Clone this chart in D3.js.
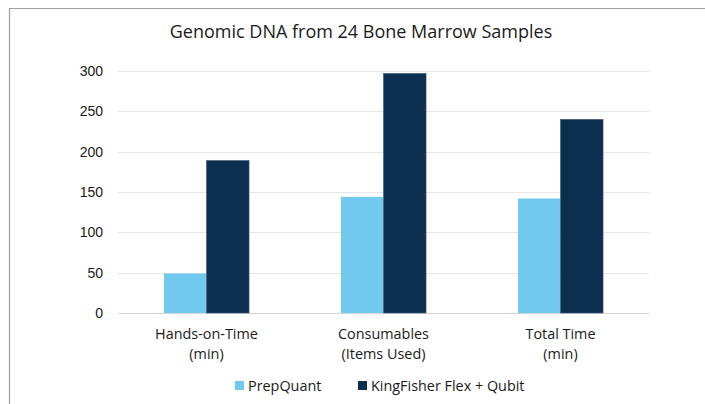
<!DOCTYPE html>
<html>
<head>
<meta charset="utf-8">
<script src="https://cdn.jsdelivr.net/npm/d3@7"></script>
<style>
  body { margin: 0; background: #fff; }
  svg { display: block; font-family: "Open Sans", "Liberation Sans", sans-serif; }
</style>
</head>
<body>
<svg id="chart" width="705" height="404"></svg>
<script>
// data
const categories = [["Hands-on-Time", "(min)"], ["Consumables", "(Items Used)"], ["Total Time", "(min)"]];
const seriesNames = ["PrepQuant", "KingFisher Flex + Qubit"];
const prepQuant = [49, 144, 142];
const kingFisher = [189, 297, 240];
const yTicks = [0, 50, 100, 150, 200, 250, 300];
const colors = ["#72C9EE", "#0C2F50"];

const svg = d3.select("#chart");
const margin = { left: 118, right: 56, top: 71, bottom: 91 };
const width = 705, height = 404;

// outer frame of the chart area
svg.append("path")
    .attr("d", "M9.5,404 V8.5 H705")
    .attr("fill", "none")
    .attr("stroke", "#a0a0a0")
    .attr("stroke-width", 1.2);

svg.append("text")
    .attr("x", 361)
    .attr("y", 38)
    .attr("text-anchor", "middle")
    .attr("font-size", 18)
    .attr("fill", "#1a1a1a")
    .text("Genomic DNA from 24 Bone Marrow Samples");

const y = d3.scaleLinear().domain([0, 300]).range([height - margin.bottom, margin.top]);
const x0 = d3.scaleBand().domain(d3.range(categories.length)).range([margin.left, width - margin.right]);
const x1 = d3.scaleBand().domain(d3.range(seriesNames.length)).range([0, x0.bandwidth()]).paddingOuter(1.08);

// gridlines
svg.append("g")
    .selectAll("line")
    .data(yTicks)
    .join("line")
    .attr("x1", margin.left)
    .attr("x2", width - margin.right)
    .attr("y1", d => Math.round(y(d)) + 0.5)
    .attr("y2", d => Math.round(y(d)) + 0.5)
    .attr("stroke", d => d === 0 ? "#d4d4d4" : "#e6e6e6")
    .attr("stroke-width", 1);

// y axis labels
const yAxis = d3.axisLeft(y).tickValues(yTicks).tickSize(0).tickPadding(0);
svg.append("g")
    .attr("transform", `translate(${margin.left - 15},0)`)
    .call(yAxis)
    .call(g => g.select(".domain").remove())
    .call(g => g.selectAll("text").attr("font-size", 14).attr("fill", "#1a1a1a").attr("font-family", null));

// bars
const allSeries = [prepQuant, kingFisher];
const groups = svg.append("g")
    .selectAll("g")
    .data(categories.map((c, i) => i))
    .join("g")
    .attr("transform", i => `translate(${x0(i)},0)`);

groups.selectAll("rect")
    .data(i => allSeries.map((s, j) => ({ s: j, v: s[i] })))
    .join("rect")
    .attr("x", d => x1(d.s))
    .attr("width", x1.bandwidth())
    .attr("y", d => y(d.v))
    .attr("height", d => y(0) - y(d.v))
    .attr("fill", d => colors[d.s])
    .attr("stroke", d => d.s === 1 ? "#3d5a75" : "none")
    .attr("stroke-width", 0.6);

// category labels
const xAxis = svg.append("g");
categories.forEach((lines, i) => {
    const t = xAxis.append("text")
        .attr("text-anchor", "middle")
        .attr("font-size", 14.4)
        .attr("fill", "#1a1a1a")
        .attr("x", x0(i) + x0.bandwidth() / 2)
        .attr("y", 339);
    lines.forEach((l, k) => {
        t.append("tspan")
            .attr("x", x0(i) + x0.bandwidth() / 2)
            .attr("dy", k === 0 ? 0 : 20)
            .text(l);
    });
});

// legend
const legendX = [235, 358];
const legend = svg.append("g")
    .selectAll("g")
    .data(seriesNames)
    .join("g")
    .attr("transform", (d, i) => `translate(${legendX[i]},381)`);
legend.append("rect")
    .attr("width", 9)
    .attr("height", 9)
    .attr("fill", (d, i) => colors[i]);
legend.append("text")
    .attr("x", 13)
    .attr("y", 9.5)
    .attr("font-size", 14.4)
    .attr("fill", "#1a1a1a")
    .text(d => d);
</script>
</body>
</html>
